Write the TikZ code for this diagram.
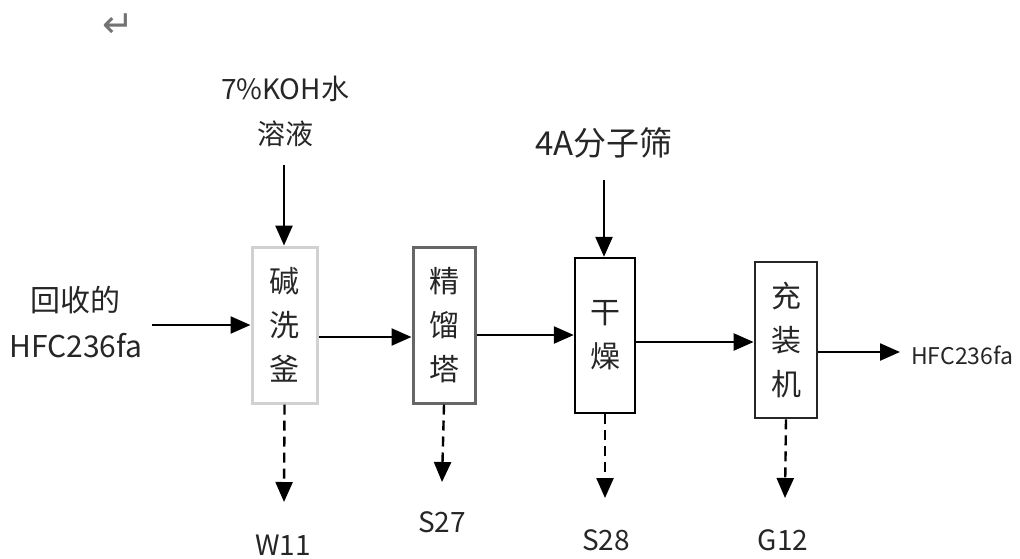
\documentclass[tikz,border=0pt]{standalone}
\usepackage{fontspec}
\setmainfont{Noto Sans CJK SC}
\newfontfamily\symfont{DejaVu Sans}
\usetikzlibrary{arrows.meta}
\begin{document}
\begin{tikzpicture}[x=1pt,y=-1pt,
  arr/.style={line width=2.4pt,-{Triangle[length=20pt,width=17pt]}},
  darr/.style={arr,dash pattern=on 10pt off 6pt},
  unit/.style={minimum width=#1,minimum height=156pt,inner sep=0pt,align=center,
    font=\fontsize{30}{44}\selectfont,text=black!85},
  lbl/.style={inner sep=0pt,align=center,text=black!85,font=\fontsize{28}{45}\selectfont}]
\useasboundingbox (0,0) rectangle (1020,558);
\node[text=black!55,font=\symfont\fontsize{38}{38}\selectfont] (ret) at (118,26) {↵};
% units
\node[unit=65pt,draw=black!18,line width=3pt] (b1) at (284.5,325) {碱\\洗\\釜};
\node[unit=62pt,draw=black!60,line width=3pt] (b2) at (444,325) {精\\馏\\塔};
\node[unit=60pt,draw=black,line width=2.4pt,minimum height=155pt] (b3) at (605,335.5) {干\\燥};
\node[unit=62pt,draw=black!85,line width=2.8pt] (b4) at (786,340) {充\\装\\机};
% labels
\node[lbl] (koh) at (285,111) {7\%KOH水\\溶液};
\node[lbl,font=\fontsize{33}{33}\selectfont] (mol) at (604,143) {4A分子筛};
\node[lbl,font=\fontsize{30}{46}\selectfont] (in) at (76,322) {回收的\\HFC236fa};
\node[lbl,anchor=west,font=\fontsize{23}{23}\selectfont] (out) at (911,355) {HFC236fa};
\node[lbl,font=\fontsize{28}{28}\selectfont] (w11) at (283,545) {W11};
\node[lbl,font=\fontsize{28}{28}\selectfont] (s27) at (442,522) {S27};
\node[lbl,font=\fontsize{28}{28}\selectfont] (s28) at (606,540) {S28};
\node[lbl,font=\fontsize{28}{28}\selectfont] (g12) at (783,540) {G12};
% coordinates
\coordinate (kohs) at (284,165);
\coordinate (mols) at (604,180);
\coordinate (ins) at (152,325);
\coordinate (oute) at (900,352);
\coordinate (w11e) at (284,502);
\coordinate (s27e) at (442,482);
\coordinate (s28e) at (605,498);
\coordinate (g12e) at (785,498);
% connectors
\draw[arr] (kohs) -- (kohs |- b1.north);
\draw[arr] (mols) -- (mols |- b3.north);
\draw[arr] (ins) -- (ins -| b1.west);
\draw[arr] ([yshift=-12pt]b1.east) -- ([yshift=-12pt]b1.east -| b2.west);
\draw[arr] ([yshift=-10pt]b2.east) -- ([yshift=-10pt]b2.east -| b3.west);
\draw[arr] ([yshift=-6.5pt]b3.east) -- ([yshift=-6.5pt]b3.east -| b4.west);
\draw[arr] ([yshift=-12pt]b4.east) -- (oute);
\draw[darr] (b1.south) -- (w11e);
\draw[darr] (b2.south) -- (s27e);
\draw[darr] (b3.south) -- (s28e);
\draw[darr] (b4.south) -- (g12e);
\end{tikzpicture}
\end{document}
